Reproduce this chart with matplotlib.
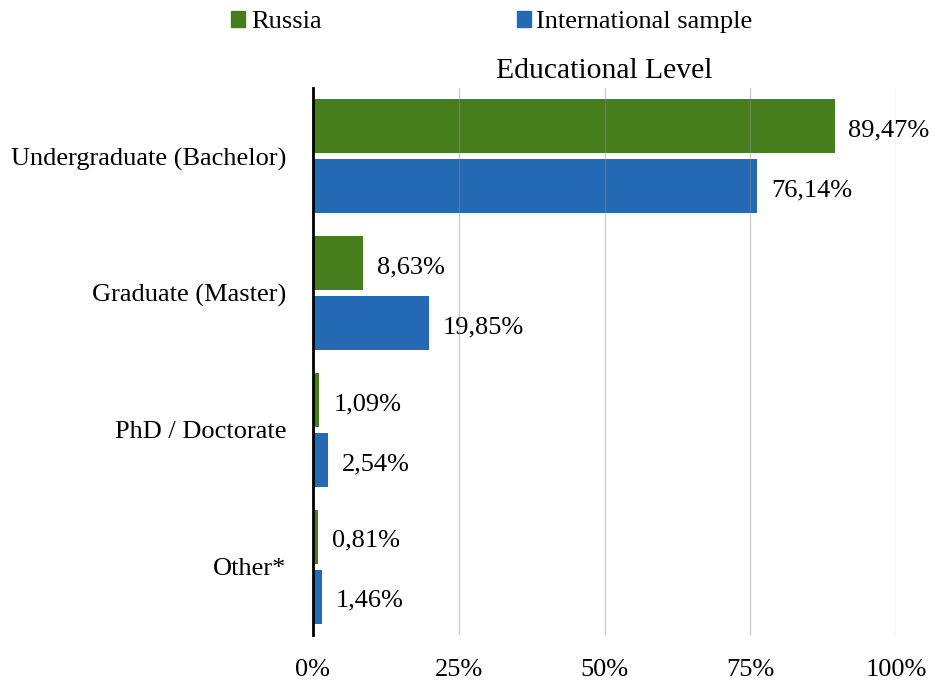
import numpy as np
import matplotlib.pyplot as plt
from matplotlib.patches import Patch

categories = ['Undergraduate (Bachelor)', 'Graduate (Master)', 'PhD / Doctorate', 'Other*']
russia = [89.47, 8.63, 1.09, 0.81]
international = [76.14, 19.85, 2.54, 1.46]
xticks = [0, 25, 50, 75, 100]

green = '#467d1d'
blue = '#2369b4'

plt.rcParams['font.family'] = ['Liberation Serif', 'DejaVu Serif']
fs = 19

fig = plt.figure(figsize=(9.35, 6.82), dpi=100)
ax = fig.add_axes([313 / 935, 1 - 635 / 682, 583 / 935, (635 - 88) / 682])

y = np.arange(len(categories))
h = 0.395
off = h / 2 + 0.022
ax.barh(y - off, russia, height=h, color=green, zorder=2)
ax.barh(y + off, international, height=h, color=blue, zorder=2)

# value labels, comma as decimal sign
for yi, v in zip(y - off, russia):
    ax.annotate(f'{v:.2f}%'.replace('.', ','), (v, yi), xytext=(10, -3),
                textcoords='offset points', va='center', ha='left', fontsize=fs)
for yi, v in zip(y + off, international):
    ax.annotate(f'{v:.2f}%'.replace('.', ','), (v, yi), xytext=(10, -3),
                textcoords='offset points', va='center', ha='left', fontsize=fs)

ax.set_xlim(0, 100)
ax.set_ylim(3.5, -0.5)
ax.set_xticks(xticks)
ax.set_xticklabels([f'{t}%' for t in xticks], fontsize=fs)
ax.set_yticks(y)
ax.set_yticklabels(categories, fontsize=fs)
ax.tick_params(axis='x', length=0, pad=17)
ax.tick_params(axis='y', length=0, pad=19)

for t in xticks[1:]:
    ax.axvline(t, color='#909090', alpha=0.45, lw=1, zorder=3)

for s in ['top', 'right', 'bottom']:
    ax.spines[s].set_visible(False)
ax.spines['left'].set_linewidth(2)
ax.spines['left'].set_zorder(4)

ax.set_title('Educational Level', fontsize=21.3, pad=7.5)

handles = [Patch(color=green, label='Russia'), Patch(color=blue, label='International sample')]
fig.legend(handles=handles, loc='center', bbox_to_anchor=(0.526, 0.968), ncol=2,
           frameon=False, fontsize=fs, handlelength=0.55, handleheight=0.55,
           handletextpad=0.2, columnspacing=7.4)

fig.savefig('out.png', dpi=100)
